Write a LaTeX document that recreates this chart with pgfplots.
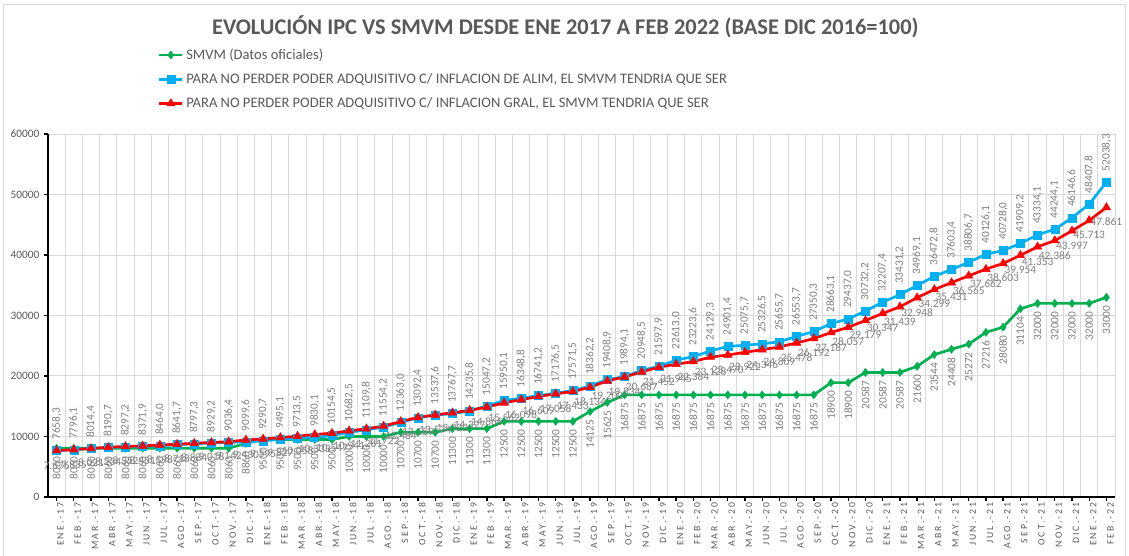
\documentclass[border=0pt]{standalone}
\usepackage{fontspec}
\setmainfont{Carlito}
\newfontfamily\spacedfont[LetterSpace=22]{Carlito}
\usepackage{pgfplots}
\pgfplotsset{compat=1.18}
\usepackage{pgfplotstable}
\definecolor{cgreen}{HTML}{00B050}
\definecolor{cblue}{HTML}{00B0F0}
\definecolor{cred}{HTML}{FF0000}
\definecolor{txtgray}{HTML}{595959}
\definecolor{lblgray}{HTML}{7F7F7F}
\definecolor{gridgray}{HTML}{D9D9D9}

\pgfplotstableread{
x smvm alim gral
0 8060 7658.3 7676
1 8060 7796.1 7835
2 8060 8014.4 8021
3 8060 8190.7 8234
4 8060 8297.2 8352
5 8060 8371.9 8451
6 8060 8464.0 8598
7 8060 8641.7 8718
8 8060 8797.3 8884
9 8060 8929.2 9018
10 8060 9036.4 9142
11 8860 9099.6 9430
12 9500 9290.7 9595
13 9500 9495.1 9827
14 9500 9713.5 10058
15 9500 9830.1 10333
16 9500 10154.5 10547
17 10000 10682.5 10941
18 10000 11109.8 11281
19 10000 11554.2 11722
20 10700 12363.0 12484
21 10700 13092.4 13159
22 10700 13537.6 13574
23 11300 13767.7 13922
24 11300 14235.8 14327
25 11300 15047.2 14866
26 12500 15950.1 15562
27 12500 16348.8 16098
28 12500 16741.2 16609
29 12500 17176.5 17058
30 12500 17571.5 17433
31 14125 18362.2 18134
32 15625 19408.9 19200
33 16875 19894.1 19834
34 16875 20948.5 20687
35 16875 21597.9 21452
36 16875 22613.0 21945
37 16875 23223.6 22384
38 16875 24129.3 23128
39 16875 24901.4 23470
40 16875 25075.7 23922
41 16875 25326.5 24346
42 16875 25655.7 24809
43 16875 26553.7 25478
44 16875 27350.3 26192
45 18900 28663.1 27187
46 18900 29437.0 28057
47 20587 30732.2 29179
48 20587 32207.4 30347
49 20587 33431.2 31439
50 21600 34969.1 32948
51 23544 36472.8 34299
52 24408 37603.4 35431
53 25272 38806.7 36565
54 27216 40126.1 37662
55 28080 40728.0 38603
56 31104 41909.2 39954
57 32000 43334.1 41353
58 32000 44244.1 42386
59 32000 46146.6 43997
60 32000 48407.8 45713
61 33000 52038.3 47861
}\datatable

\begin{document}
\begin{tikzpicture}[x=1pt,y=1pt]
\draw[gridgray, line width=0.75pt] (2.25,-2) -- (2.25,413.25) -- (843.75,413.25) -- (843.75,-2);
\node[font=\bfseries\fontsize{16.8}{19}\selectfont, text=txtgray] at (424,397) {EVOLUCIÓN IPC VS SMVM DESDE ENE 2017 A FEB 2022 (BASE DIC 2016=100)};
\begin{axis}[
  at={(36pt,44.25pt)}, anchor=south west,
  scale only axis, width=800.25pt, height=272.25pt,
  xmin=-0.5, xmax=61.5, ymin=0, ymax=60000,
  clip=false,
  ytick={0,10000,...,60000},
  scaled y ticks=false,
  yticklabel style={font=\fontsize{8.5}{10}\selectfont, text=txtgray, /pgf/number format/fixed, /pgf/number format/1000 sep={}, /pgf/number format/assume math mode=true},
  xtick={0,...,61},
  xticklabels={ENE.-17,FEB.-17,MAR.-17,ABR.-17,MAY.-17,JUN.-17,JUL.-17,AGO.-17,SEP.-17,OCT.-17,NOV.-17,DIC.-17,
    ENE.-18,FEB.-18,MAR.-18,ABR.-18,MAY.-18,JUN.-18,JUL.-18,AGO.-18,SEP.-18,OCT.-18,NOV.-18,DIC.-18,
    ENE.-19,FEB.-19,MAR.-19,ABR.-19,MAY.-19,JUN.-19,JUL.-19,AGO.-19,SEP.-19,OCT.-19,NOV.-19,DIC.-19,
    ENE.-20,FEB.-20,MAR.-20,ABR.-20,MAY.-20,JUN.-20,JUL.-20,AGO.-20,SEP.-20,OCT.-20,NOV.-20,DIC.-20,
    ENE.-21,FEB.-21,MAR.-21,ABR.-21,MAY.-21,JUN.-21,JUL.-21,AGO.-21,SEP.-21,OCT.-21,NOV.-21,DIC.-21,
    ENE.-22,FEB.-22},
  xticklabel style={font=\spacedfont\fontsize{7.3}{8}\selectfont, text=txtgray, rotate=90, anchor=east, inner sep=1pt, yshift=-3pt},
  minor xtick={-0.5,0.5,...,61.5},
  minor tick length=0pt,
  xminorgrids, ymajorgrids,
  minor grid style={gridgray, line width=0.75pt},
  major grid style={gridgray, line width=0.75pt},
  axis x line*=bottom, axis y line*=left,
  axis line style={black, line width=1.3pt, -},
  tick align=outside, major tick length=3pt,
  tick style={black, line width=1pt},
  legend style={at={(0.103,1.243)}, anchor=north west, draw=none, fill=none,
    font=\fontsize{10.9}{13}\selectfont, text=txtgray, row sep=5pt, inner sep=0pt},
  legend cell align=left,
]
\addplot[cgreen, line width=2pt, mark=diamond*, mark size=3pt, mark options={solid, line width=0.4pt},
  nodes near coords={\pgfmathprintnumber[fixed,precision=0,1000 sep={},assume math mode=true]{\pgfplotspointmeta}},
  every node near coord/.style={font=\fontsize{8.5}{10}\selectfont, text=lblgray, rotate=90, anchor=east, inner sep=1pt, xshift=-5pt}]
  table[x=x,y=smvm]{\datatable};
\addlegendentry{SMVM (Datos oficiales)}
\addplot[cblue, line width=2pt, mark=square*, mark size=3pt, mark options={solid, line width=0.4pt},
  nodes near coords={\pgfmathprintnumber[fixed,fixed zerofill,precision=1,use comma,1000 sep={},assume math mode=true]{\pgfplotspointmeta}},
  every node near coord/.style={font=\fontsize{8.5}{10}\selectfont, text=lblgray, rotate=90, anchor=west, inner sep=1pt, xshift=7pt}]
  table[x=x,y=alim]{\datatable};
\addlegendentry{PARA NO PERDER PODER ADQUISITIVO C/ INFLACION DE ALIM, EL SMVM TENDRIA QUE SER}
\addplot[cred, line width=2pt, mark=triangle*, mark size=3.6pt, mark options={solid, line width=0.4pt},
  nodes near coords={\pgfmathprintnumber[fixed,precision=0,1000 sep={.},assume math mode=true]{\pgfplotspointmeta}},
  every node near coord/.style={font=\fontsize{8.5}{10}\selectfont, text=lblgray, anchor=center, inner sep=1pt, yshift=-11pt}]
  table[x=x,y=gral]{\datatable};
\addlegendentry{PARA NO PERDER PODER ADQUISITIVO C/ INFLACION GRAL, EL SMVM TENDRIA QUE SER}
\end{axis}
\pgfresetboundingbox
\useasboundingbox (0,0) rectangle (846.75,417);
\end{tikzpicture}
\end{document}
